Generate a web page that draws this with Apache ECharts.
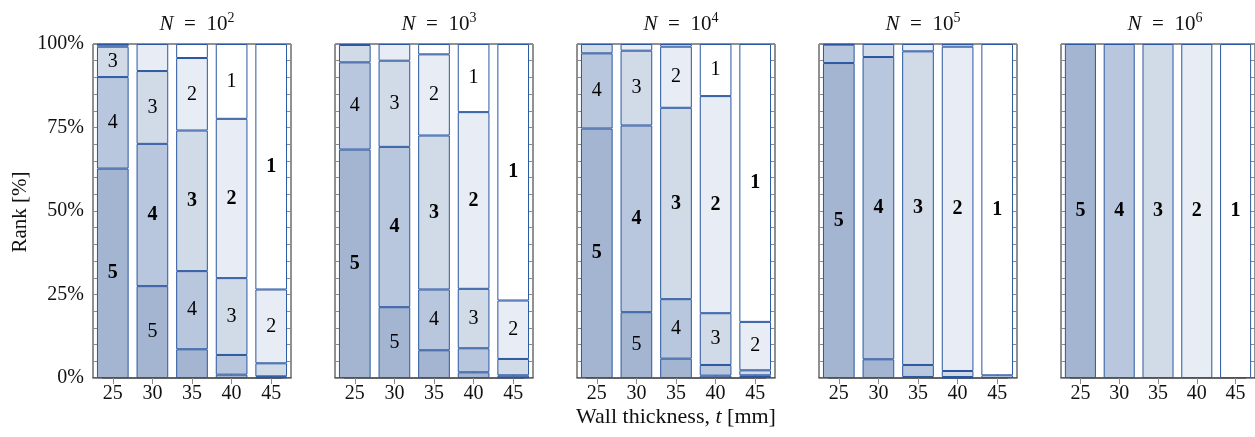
<!DOCTYPE html>
<html>
<head>
<meta charset="utf-8">
<script src="https://cdn.jsdelivr.net/npm/echarts@6/dist/echarts.min.js"></script>
<style>
  html, body { margin: 0; padding: 0; background: #fff; }
  #chart { width: 1255px; height: 437px; }
</style>
</head>
<body>
<div id="chart"></div>
<script>
// 壁厚类别
const thickness = ['25', '30', '35', '40', '45']
// 排名（自下而上堆叠）
const ranks = [5, 4, 3, 2, 1]
// 样本数指数：N = 10^k
const exponents = [2, 3, 4, 5, 6]
const yTicks = [0, 25, 50, 75, 100]

// 每行 = 一个排名 (5..1)，每列 = 一个壁厚 (25..45)，单位 %
const shareN2 = [
  [62.7, 27.5, 8.6, 1.0, 0.2],
  [27.4, 42.6, 23.4, 5.9, 0.3],
  [9.1, 21.8, 42.1, 23.0, 3.9],
  [0.6, 8.1, 21.7, 47.7, 22.1],
  [0.2, 0, 4.2, 22.4, 73.5]
]
const shareN3 = [
  [68.4, 21.2, 8.3, 1.7, 0.2],
  [26.1, 48.0, 18.2, 7.2, 0.6],
  [5.2, 25.8, 46.1, 17.8, 4.9],
  [0.3, 5.0, 24.3, 52.9, 17.5],
  [0, 0, 3.1, 20.4, 76.8]
]
const shareN4 = [
  [74.7, 19.7, 5.8, 0.7, 0.3],
  [22.5, 55.9, 17.8, 3.2, 0.5],
  [2.8, 22.4, 57.3, 15.5, 1.5],
  [0, 2.0, 18.3, 65.0, 14.5],
  [0, 0, 0.8, 15.6, 83.2]
]
const shareN5 = [
  [94.3, 5.6, 0.3, 0.1, 0],
  [5.5, 90.5, 3.6, 0.2, 0],
  [0.2, 3.9, 93.9, 1.8, 0],
  [0, 0, 2.2, 97.1, 0.8],
  [0, 0, 0, 0.8, 99.2]
]
const shareN6 = [
  [100, 0, 0, 0, 0],
  [0, 100, 0, 0, 0],
  [0, 0, 100, 0, 0],
  [0, 0, 0, 100, 0],
  [0, 0, 0, 0, 100]
]
const panels = [shareN2, shareN3, shareN4, shareN5, shareN6]

// 样式
const rankColors = ['#a3b5d1', '#b9c7de', '#d1dbe8', '#e8edf5', '#ffffff']
const edgeColor = '#2a57a0'
const tickColor = '#8a8a8a'
const FONT = '"Liberation Serif", "DejaVu Serif", serif'

const GRID_LEFT = 93
const GRID_STEP = 242
const GRID_W = 198
const GRID_TOP = 44
const GRID_H = 334

const grids = []
const xAxes = []
const yAxes = []
const series = []
const titles = []

panels.forEach((share, p) => {
  const left = GRID_LEFT + p * GRID_STEP
  grids.push({
    left, top: GRID_TOP, width: GRID_W, height: GRID_H,
    show: true, borderColor: '#222', borderWidth: 1, backgroundColor: 'transparent'
  })

  const xTick = { show: true, inside: true, length: 6, alignWithLabel: true, lineStyle: { color: tickColor } }
  xAxes.push({
    type: 'category', gridIndex: p, data: thickness, position: 'bottom',
    axisLine: { show: true, lineStyle: { color: '#555', width: 1.5 } },
    axisTick: xTick,
    axisLabel: { color: '#111', fontFamily: FONT, fontSize: 20, margin: 6 }
  })
  xAxes.push({
    type: 'category', gridIndex: p, data: thickness, position: 'top',
    axisLine: { show: false }, axisTick: xTick, axisLabel: { show: false }
  })

  const yBase = {
    type: 'value', gridIndex: p, min: 0, max: 100, interval: 25,
    splitLine: { show: false },
    axisLine: { show: false },
    axisTick: { show: true, inside: true, length: 9, lineStyle: { color: tickColor } },
    minorTick: { show: true, splitNumber: 5, length: 5, lineStyle: { color: tickColor } }
  }
  yAxes.push(Object.assign({}, yBase, {
    position: 'left',
    axisLabel: p === 0
      ? { show: true, color: '#111', fontFamily: FONT, fontSize: 20, margin: 9,
          formatter: v => yTicks.includes(v) ? v + '%' : '' }
      : { show: false }
  }))
  yAxes.push(Object.assign({}, yBase, { position: 'right', axisLabel: { show: false } }))

  // 每列最大的份额用粗体
  const colMax = thickness.map((_, c) => Math.max(...share.map(row => row[c])))

  ranks.forEach((rank, r) => {
    series.push({
      type: 'bar',
      name: 'N' + exponents[p] + '-r' + rank,
      stack: 'panel' + p,
      xAxisIndex: p * 2,
      yAxisIndex: p * 2,
      barWidth: '80%',
      itemStyle: { color: rankColors[r], borderColor: edgeColor, borderWidth: 1 },
      emphasis: { disabled: true },
      animation: false,
      data: share[r].map((v, c) => ({
        value: v > 0 ? v : '-',
        label: {
          show: v >= 9,
          position: 'inside',
          formatter: String(rank),
          color: '#000',
          fontFamily: FONT,
          fontSize: 20,
          fontWeight: v === colMax[c] ? 'bold' : 'normal'
        }
      }))
    })
  })

  titles.push({
    text: '{it|N}\u2002=\u200210{sup|' + exponents[p] + '}',
    left: left + GRID_W / 2,
    top: 6,
    textAlign: 'center',
    textStyle: {
      fontFamily: FONT, fontSize: 21, fontWeight: 'normal', color: '#111', lineHeight: 26,
      rich: {
        it: { fontFamily: FONT, fontSize: 21, fontStyle: 'italic', color: '#111', lineHeight: 26 },
        sup: { fontFamily: FONT, fontSize: 14, color: '#111', verticalAlign: 'top', lineHeight: 14 }
      }
    }
  })
})

const chart = echarts.init(document.getElementById('chart'), null, { renderer: 'canvas' })
chart.setOption({
  animation: false,
  title: titles,
  grid: grids,
  xAxis: xAxes,
  yAxis: yAxes,
  series,
  graphic: [
    {
      type: 'text', x: 676, y: 417,
      style: { text: 'Wall thickness, {it|t} [mm]', font: '22px ' + FONT, fill: '#111',
        align: 'center', verticalAlign: 'middle',
        rich: { it: { fontStyle: 'italic', fontFamily: FONT, fontSize: 22 } } }
    },
    {
      type: 'text', x: 20, y: 212, rotation: Math.PI / 2,
      style: { text: 'Rank [%]', font: '21px ' + FONT, fill: '#111', align: 'center', verticalAlign: 'middle' }
    }
  ]
})
</script>
</body>
</html>
